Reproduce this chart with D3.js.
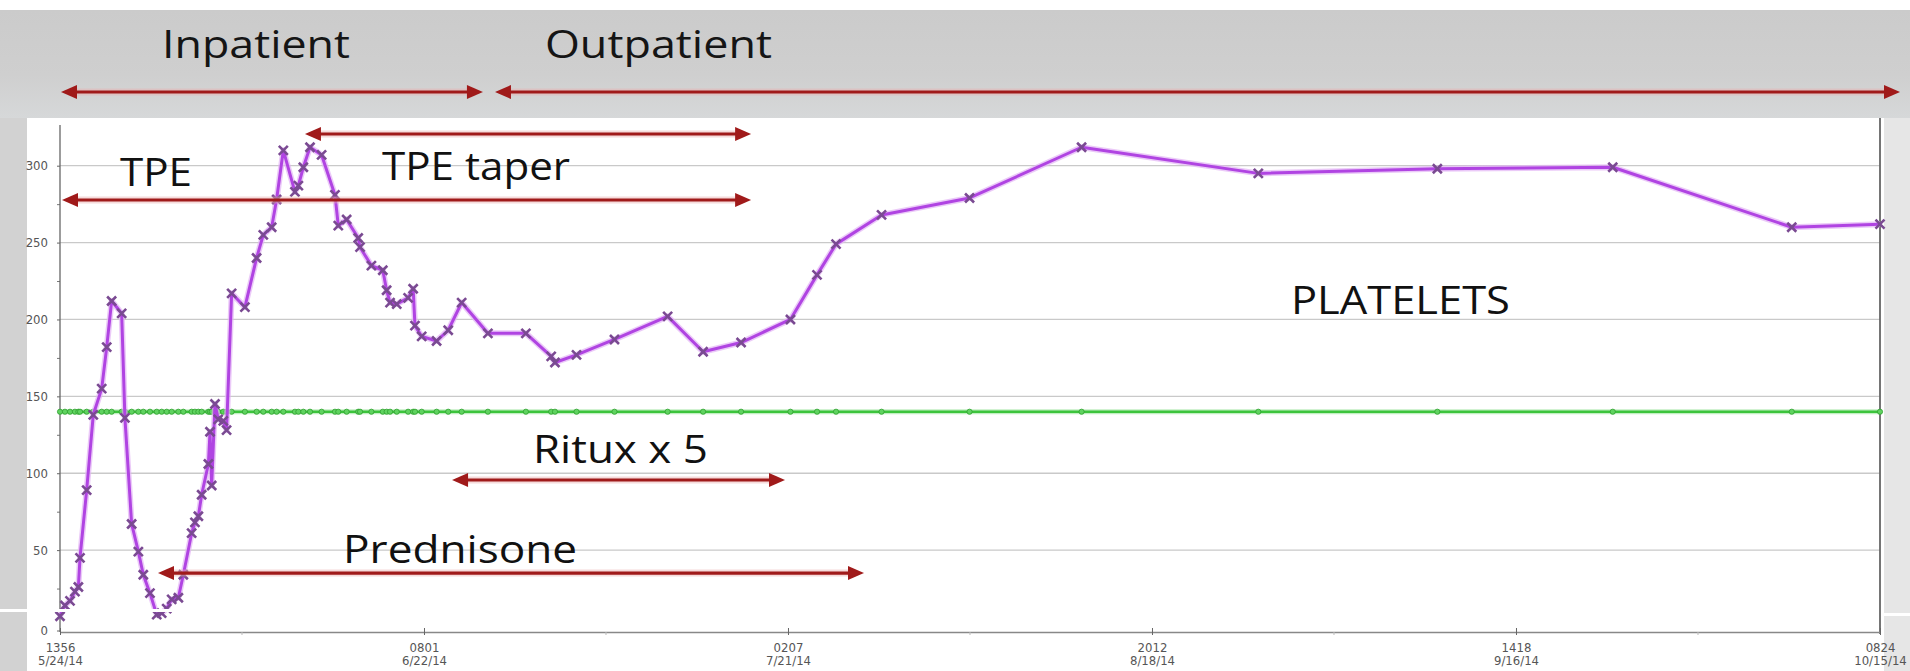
<!DOCTYPE html>
<html>
<head>
<meta charset="utf-8">
<script src="https://cdn.jsdelivr.net/npm/d3@7"></script>
<style>
  html, body { margin: 0; padding: 0; background: #ffffff; }
  svg { display: block; }
</style>
</head>
<body>
<svg id="chart" width="1910" height="671"></svg>
<script>
// ---------------- DATA ----------------
const sampleTimes = [
  "2014-05-24T13:56","2014-05-24T23:20","2014-05-25T08:55","2014-05-25T18:15","2014-05-26T00:45",
  "2014-05-26T03:50","2014-05-26T16:30","2014-05-27T05:00","2014-05-27T21:00","2014-05-28T06:30",
  "2014-05-28T15:50","2014-05-29T10:50","2014-05-29T17:00","2014-05-30T05:45","2014-05-30T18:30",
  "2014-05-31T03:50","2014-05-31T16:30","2014-06-01T05:20","2014-06-01T14:40","2014-06-02T00:15",
  "2014-06-02T09:40","2014-06-02T22:20","2014-06-03T07:45","2014-06-03T23:30","2014-06-04T05:45",
  "2014-06-04T12:15","2014-06-04T18:30","2014-06-05T07:15","2014-06-05T10:20","2014-06-05T13:30",
  "2014-06-05T19:45","2014-06-06T01:55","2014-06-06T11:30","2014-06-06T17:45","2014-06-07T03:20",
  "2014-06-08T04:30","2014-06-09T02:40","2014-06-09T15:20","2014-06-10T07:15","2014-06-10T16:35",
  "2014-06-11T05:20","2014-06-12T03:20","2014-06-12T09:50","2014-06-12T19:15","2014-06-13T07:55",
  "2014-06-14T05:55","2014-06-15T07:15","2014-06-15T13:30","2014-06-16T05:20","2014-06-17T03:20",
  "2014-06-17T06:45","2014-06-18T04:20","2014-06-19T01:55","2014-06-19T09:10","2014-06-19T15:40",
  "2014-06-20T04:20","2014-06-21T01:55","2014-06-21T11:30","2014-06-21T14:55","2014-06-22T03:40",
  "2014-06-23T07:55","2014-06-24T05:55","2014-06-25T07:25","2014-06-27T09:10","2014-06-30T09:10",
  "2014-07-02T09:10","2014-07-02T16:20","2014-07-04T09:10","2014-07-07T09:10","2014-07-11T13:56",
  "2014-07-14T09:10","2014-07-17T09:10","2014-07-21T06:45","2014-07-23T09:10","2014-07-24T21:10",
  "2014-07-28T11:30","2014-08-04T10:20","2014-08-13T06:45","2014-08-27T05:45","2014-09-10T09:10",
  "2014-09-24T05:45","2014-10-08T09:10","2014-10-15T08:24"
];
const platelets = [
  7, 14, 17, 23, 26,
  45, 89, 138, 155, 182,
  212, 204, 136, 67, 49,
  34, 22, 8, 9, 12,
  18, 19, 34, 61, 68,
  72, 86, 106, 127, 92,
  145, 135, 134, 128, 217,
  208, 240, 255, 260, 278,
  310, 283, 287, 299, 312,
  307, 281, 261, 265, 253,
  247, 235, 232, 219, 211,
  210, 214, 220, 196, 189,
  186, 193, 211, 191, 191,
  176, 172, 177, 187, 202,
  179, 185, 200, 229, 249,
  268, 279, 312, 295, 298,
  299, 260, 262
];
const lowerLimit = 140;

const xDomain = ["2014-05-24T13:56", "2014-10-15T08:24"];
const yDomain = [0, 300];
const xTickTimes = ["2014-05-24T13:56","2014-06-22T08:01","2014-07-21T02:07","2014-08-18T20:12","2014-09-16T14:18","2014-10-15T08:24"];
const xTickTop = ["1356","0801","0207","2012","1418","0824"];
const xTickBottom = ["5/24/14","6/22/14","7/21/14","8/18/14","9/16/14","10/15/14"];
const yTickValues = [0, 50, 100, 150, 200, 250, 300];
const yMinorValues = [25, 75, 125, 175, 225, 275];

// in-plot annotation arrows: [from, to, level]
const arrowNames = ["TPE taper", "TPE", "Ritux x 5", "Prednisone"];
const arrowFrom = ["2014-06-12T22:20","2014-05-24T17:45","2014-06-24T13:15","2014-06-01T07:45"];
const arrowTo   = ["2014-07-18T04:10","2014-07-18T04:10","2014-07-20T20:25","2014-07-27T02:10"];
const arrowLevel = [320.6, 277.7, 95.6, 35.1];

// in-plot labels: [text, start time, baseline level]
const labelTexts = ["TPE", "TPE taper", "Ritux x 5", "Prednisone", "PLATELETS"];
const labelTimes = ["2014-05-29T07:40","2014-06-19T00:30","2014-06-30T22:35","2014-06-15T22:35","2014-08-29T19:40"];
const labelLevels = [286.8, 290.7, 106.7, 41.6, 203.6];

// header (care setting) spans
const headerNames = ["Inpatient", "Outpatient"];
const headerFrom = ["2014-05-24T15:50","2014-06-27T22:35"];
const headerTo = ["2014-06-26T23:45","2014-10-16T22:20"];
const headerTextTimes = ["2014-06-01T15:20","2014-07-01T21:20"];

// ---------------- LAYOUT ----------------
const W = 1910, H = 671;
const parse = d3.timeParse("%Y-%m-%dT%H:%M");
const svg = d3.select("#chart");

const x = d3.scaleTime().domain(xDomain.map(parse)).range([60, 1880]);
const y = d3.scaleLinear().domain(yDomain).range([627, 165.7]);
const axisY = 632;

const defs = svg.append("defs");
const hg = defs.append("linearGradient").attr("id", "hdr").attr("x1", 0).attr("y1", 0).attr("x2", 0).attr("y2", 1);
hg.append("stop").attr("offset", "0%").attr("stop-color", "#cbcbcb");
hg.append("stop").attr("offset", "60%").attr("stop-color", "#cfcfcf");
hg.append("stop").attr("offset", "100%").attr("stop-color", "#d6d8d9");

// backgrounds
svg.append("rect").attr("width", W).attr("height", H).attr("fill", "#ffffff");
svg.append("rect").attr("x", 0).attr("y", 10).attr("width", W).attr("height", 108).attr("fill", "url(#hdr)");
svg.append("rect").attr("x", 0).attr("y", 118).attr("width", 27).attr("height", H - 118).attr("fill", "#d2d2d2");
svg.append("rect").attr("x", 1884).attr("y", 118).attr("width", W - 1884).attr("height", H - 118).attr("fill", "#e6e6e6");

// gridlines
svg.append("g").selectAll("line").data(yTickValues.filter(v => v > 0)).join("line")
  .attr("x1", x.range()[0]).attr("x2", x.range()[1])
  .attr("y1", d => y(d)).attr("y2", d => y(d))
  .attr("stroke", "#c9c9c9").attr("stroke-width", 1.3);

// y axis
const fontAxis = "'Liberation Sans Narrow', 'Arial Narrow', 'DejaVu Sans Condensed', sans-serif";
const gy = svg.append("g").attr("transform", "translate(60,0)")
  .call(d3.axisLeft(y).tickValues(yTickValues).tickSize(3).tickPadding(9).tickFormat(d3.format("d")));
gy.select(".domain").remove();
gy.selectAll(".tick line").attr("stroke", "#666");
gy.selectAll(".tick text").attr("font-family", fontAxis).attr("font-size", 13).attr("fill", "#555");
gy.selectAll(".tick").filter(d => d === 0).attr("transform", `translate(0,${axisY - 1})`);
const gyMinor = svg.append("g").attr("transform", "translate(60,0)")
  .call(d3.axisLeft(y).tickValues(yMinorValues).tickSize(3).tickFormat(""));
gyMinor.select(".domain").remove();
gyMinor.selectAll(".tick line").attr("stroke", "#777");
svg.append("line").attr("x1", 60).attr("x2", 60).attr("y1", 125).attr("y2", axisY)
  .attr("stroke", "#666").attr("stroke-width", 1.3);
svg.append("line").attr("x1", 1880).attr("x2", 1880).attr("y1", 118).attr("y2", axisY + 2)
  .attr("stroke", "#666").attr("stroke-width", 1.8);

// x axis
const tickDates = xTickTimes.map(parse);
const gx = svg.append("g").attr("transform", `translate(0,${axisY})`)
  .call(d3.axisBottom(x).tickValues(tickDates).tickSize(0).tickFormat(""));
gx.select(".domain").attr("stroke", "#888").attr("stroke-width", 1.3);
gx.selectAll(".tick").append("line").attr("y1", -4).attr("y2", 3).attr("stroke", "#666");
gx.selectAll(".tick text").remove();
const tl = gx.selectAll(".tick").append("text")
  .attr("text-anchor", "middle").attr("font-family", fontAxis).attr("font-size", 13).attr("fill", "#555");
tl.append("tspan").attr("x", 0).attr("y", 20).text((d, i) => xTickTop[i]);
tl.append("tspan").attr("x", 0).attr("y", 33).text((d, i) => xTickBottom[i]);
const mids = d3.pairs(tickDates).map(([a, b]) => new Date((+a + +b) / 2));
svg.append("g").selectAll("line").data(mids).join("line")
  .attr("x1", d => x(d)).attr("x2", d => x(d)).attr("y1", axisY).attr("y2", axisY + 3)
  .attr("stroke", "#bbb");

// green lower-limit line
const pts = sampleTimes.map((t, i) => ({ t: parse(t), v: platelets[i] }));
svg.append("line").attr("x1", x.range()[0]).attr("x2", x.range()[1])
  .attr("y1", y(lowerLimit)).attr("y2", y(lowerLimit))
  .attr("stroke", "#9be59b").attr("stroke-width", 5).attr("opacity", 0.6);
svg.append("line").attr("x1", x.range()[0]).attr("x2", x.range()[1])
  .attr("y1", y(lowerLimit)).attr("y2", y(lowerLimit))
  .attr("stroke", "#3cc43c").attr("stroke-width", 2.4);
svg.append("g").selectAll("circle").data(pts).join("circle")
  .attr("cx", d => x(d.t)).attr("cy", y(lowerLimit)).attr("r", 2.6)
  .attr("fill", "#5fd35f").attr("stroke", "#2f9f2f").attr("stroke-width", 0.8);

// platelet line
const line = d3.line().x(d => x(d.t)).y(d => y(d.v));
svg.append("path").datum(pts).attr("d", line).attr("fill", "none")
  .attr("stroke", "#e2b4f5").attr("stroke-width", 6).attr("stroke-linejoin", "round").attr("opacity", 0.7);
svg.append("path").datum(pts).attr("d", line).attr("fill", "none")
  .attr("stroke", "#b044e2").attr("stroke-width", 3).attr("stroke-linejoin", "round");
svg.append("g").selectAll("path").data(pts).join("path")
  .attr("transform", d => `translate(${x(d.t)},${y(d.v)})`)
  .attr("d", "M-4.5,-4.5L4.5,4.5M-4.5,4.5L4.5,-4.5")
  .attr("fill", "none").attr("stroke", "#7a4a92").attr("stroke-width", 2.6);

// arrows
const arrowColor = "#a01a1a";
function drawArrow(g, x1, x2, yy, headLeft, headRight) {
  g.append("line").attr("x1", x1 + 8).attr("x2", x2 - 8).attr("y1", yy).attr("y2", yy)
    .attr("stroke", "#eab0b0").attr("stroke-width", 7).attr("opacity", 0.45);
  g.append("line").attr("x1", x1 + 6).attr("x2", x2 - 6).attr("y1", yy).attr("y2", yy)
    .attr("stroke", arrowColor).attr("stroke-width", 3.2);
  if (headLeft) g.append("path").attr("d", `M${x1},${yy}L${x1 + 16},${yy - 7}L${x1 + 16},${yy + 7}Z`).attr("fill", arrowColor);
  if (headRight) g.append("path").attr("d", `M${x2},${yy}L${x2 - 16},${yy - 7}L${x2 - 16},${yy + 7}Z`).attr("fill", arrowColor);
}
const ga = svg.append("g");
arrowNames.forEach((n, i) => drawArrow(ga, x(parse(arrowFrom[i])), x(parse(arrowTo[i])), y(arrowLevel[i]), true, true));
headerNames.forEach((n, i) => drawArrow(ga, x(parse(headerFrom[i])), x(parse(headerTo[i])), 92, true, true));

// labels
const fontLabel = "'Open Sans', 'Noto Sans', sans-serif";
const labelWidths = [72, 188, 175, 234, 219];
svg.append("g").selectAll("text").data(labelTexts).join("text")
  .attr("x", (d, i) => x(parse(labelTimes[i])))
  .attr("y", (d, i) => y(labelLevels[i]))
  .attr("font-family", fontLabel).attr("font-size", 39).attr("fill", "#111")
  .attr("textLength", (d, i) => labelWidths[i]).attr("lengthAdjust", "spacingAndGlyphs")
  .text(d => d);
const headerWidths = [188, 227];
svg.append("g").selectAll("text").data(headerNames).join("text")
  .attr("x", (d, i) => x(parse(headerTextTimes[i])))
  .attr("y", 58)
  .attr("font-family", fontLabel).attr("font-size", 39).attr("fill", "#151515")
  .attr("textLength", (d, i) => headerWidths[i]).attr("lengthAdjust", "spacingAndGlyphs")
  .text(d => d);

// slide artefact: thin white break across the lower left / right margins
svg.append("rect").attr("x", 0).attr("y", 609).attr("width", 184).attr("height", 3).attr("fill", "#ffffff");
svg.append("rect").attr("x", 1883).attr("y", 613).attr("width", 27).attr("height", 3).attr("fill", "#ffffff");
</script>
</body>
</html>
